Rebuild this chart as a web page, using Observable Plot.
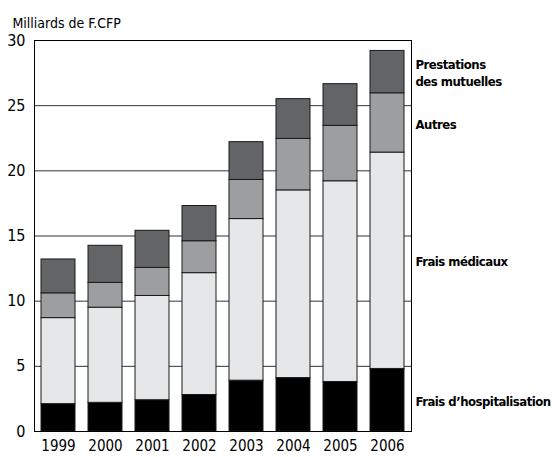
<!DOCTYPE html>
<html>
<head>
<meta charset="utf-8">
<script src="https://cdn.jsdelivr.net/npm/d3@7"></script>
<script src="https://cdn.jsdelivr.net/npm/@observablehq/plot@0.6"></script>
<style>
  body { margin: 0; background: #fff; }
  #chart svg { font-family: "DejaVu Sans Condensed", "Liberation Sans Narrow", sans-serif; }
  #chart .rlabels text, #chart text.rlabels { letter-spacing: -0.5px; }
</style>
</head>
<body>
<div id="chart"></div>
<script>
const years = ["1999", "2000", "2001", "2002", "2003", "2004", "2005", "2006"];
const hospitalisation = [2.1, 2.2, 2.4, 2.8, 3.9, 4.1, 3.8, 4.8];
const medicaux = [6.6, 7.3, 8.0, 9.35, 12.4, 14.4, 15.4, 16.6];
const autres = [1.9, 1.9, 2.15, 2.45, 3.0, 3.95, 4.25, 4.55];
const mutuelles = [2.6, 2.85, 2.85, 2.7, 2.9, 3.05, 3.2, 3.25];
const seriesNames = ["Frais d\u2019hospitalisation", "Frais médicaux", "Autres", "Prestations\ndes mutuelles"];
const seriesValues = [hospitalisation, medicaux, autres, mutuelles];
const colors = ["#000000", "#e6e7e8", "#9d9ea0", "#636466"];
const yTicks = [0, 5, 10, 15, 20, 25, 30];

const rows = [];
seriesNames.forEach((s, i) => years.forEach((y, j) => rows.push({year: y, series: s, value: seriesValues[i][j]})));

// label positions: mid of each segment in the last year
const last = years.length - 1;
let cum = 0;
const labels = seriesNames.map((s, i) => {
  const v = seriesValues[i][last];
  const mid = cum + v / 2;
  cum += v;
  return {year: years[last], series: s, y: mid};
});

const chart = Plot.plot({
  width: 558,
  height: 457,
  marginTop: 40,
  marginBottom: 26,
  marginLeft: 34,
  marginRight: 147,
  style: {fontSize: "15px", background: "#fff"},
  x: {domain: years, paddingInner: 0.28, paddingOuter: 0.14, label: null},
  y: {domain: [0, 30], ticks: yTicks, label: null},
  color: {domain: seriesNames, range: colors},
  marks: [
    Plot.gridY(yTicks, {stroke: "#333", strokeOpacity: 1, strokeWidth: 1}),
    Plot.barY(rows, {x: "year", y: "value", fill: "series", stroke: "#1a1a1a", strokeWidth: 1}),
    Plot.frame({stroke: "#000", strokeWidth: 1}),
    Plot.axisY({ticks: yTicks, tickSize: 0, tickPadding: 9, fontSize: 16, label: null}),
    Plot.axisX({tickSize: 0, tickPadding: 9, fontSize: 15, label: null}),
    Plot.text(["Milliards de F.CFP"], {frameAnchor: "top-left", dx: -22, dy: -22, textAnchor: "start", fontSize: 14, fill: "#000"}),
    Plot.text(labels, {x: "year", y: "y", text: "series", dx: 28, textAnchor: "start", fontSize: 13, fontWeight: "bold", lineHeight: 1.35, fill: "#000", className: "rlabels"})
  ]
});
document.getElementById("chart").appendChild(chart);
</script>
</body>
</html>
